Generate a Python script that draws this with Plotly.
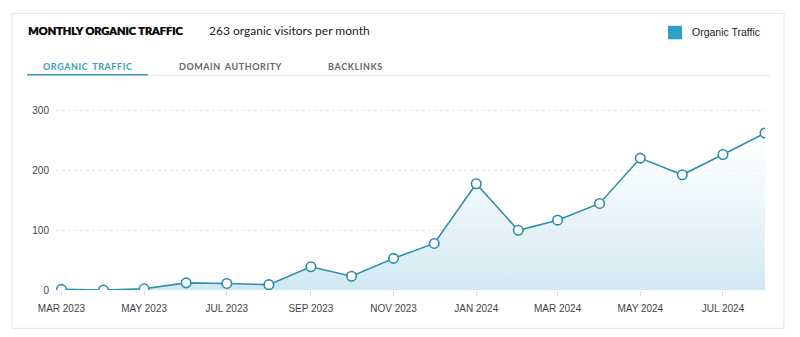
import plotly.graph_objects as go

months = ["2023-03-01", "2023-04-01", "2023-05-01", "2023-06-01", "2023-07-01", "2023-08-01",
          "2023-09-01", "2023-10-01", "2023-11-01", "2023-12-01", "2024-01-01", "2024-02-01",
          "2024-03-01", "2024-04-01", "2024-05-01", "2024-06-01", "2024-07-01", "2024-08-01"]
traffic = [1, 0, 2, 12, 11, 9, 39, 23, 53, 78, 178, 100, 117, 145, 221, 193, 227, 263]

tick_dates = ["2023-03-01", "2023-05-01", "2023-07-01", "2023-09-01", "2023-11-01",
              "2024-01-01", "2024-03-01", "2024-05-01", "2024-07-01"]
tick_labels = ["MAR 2023", "MAY 2023", "JUL 2023", "SEP 2023", "NOV 2023",
               "JAN 2024", "MAR 2024", "MAY 2024", "JUL 2024"]
y_ticks = [0, 100, 200, 300]

title_text = "MONTHLY ORGANIC TRAFFIC"
subtitle_text = "263 organic visitors per month"
tabs = ["ORGANIC TRAFFIC", "DOMAIN AUTHORITY", "BACKLINKS"]
legend_label = "Organic Traffic"

TEAL = "#2b8fab"


def spaced(s):
    return "\u200a".join(list(s)).replace("\u200a \u200a", "\u2009 \u2009")


fig = go.Figure()
fig.add_trace(go.Scatter(
    x=months, y=traffic, mode="lines+markers",
    line=dict(color=TEAL, width=1.6),
    marker=dict(size=9.5, color="white", line=dict(color=TEAL, width=1.6)),
    fill="tozeroy",
    fillgradient=dict(type="vertical",
                      colorscale=[[0, "rgba(200,228,239,0.85)"], [1, "rgba(255,255,255,0.6)"]]),
    showlegend=False, hoverinfo="x+y",
))

W, H = 800, 337
L, R, T, B = 56, 35, 98.7, 47.3

fig.update_layout(
    width=W, height=H,
    margin=dict(l=L, r=R, t=T, b=B),
    paper_bgcolor="white", plot_bgcolor="white",
    xaxis=dict(
        type="date", range=["2023-02-25", "2024-08-01"],
        tickvals=tick_dates, ticktext=tick_labels,
        showgrid=False, zeroline=False, showline=False,
        ticks="outside", ticklen=5, tickcolor="#dddddd", tickwidth=1,
        ticklabelstandoff=4,
        tickfont=dict(family="Liberation Sans, Arial", size=10, color="#444444"),
    ),
    yaxis=dict(
        range=[0, 320], tickvals=y_ticks,
        showgrid=True, gridcolor="#e3e3e3", griddash="dot", gridwidth=1,
        zeroline=False, showline=False, ticks="",
        ticklabelstandoff=6,
        tickfont=dict(family="Liberation Sans, Arial", size=10, color="#444444"),
    ),
    font=dict(family="Liberation Sans, Arial"),
    showlegend=False,
)


def px_x(x):
    return (x - L) / (W - L - R)


def px_y(y):
    return (H - B - y) / (H - T - B)


shapes = [
    # card border
    dict(type="rect", xref="paper", yref="paper",
         x0=px_x(12), x1=px_x(784), y0=px_y(328), y1=px_y(13),
         line=dict(color="#e4e4e4", width=1), fillcolor="rgba(0,0,0,0)", layer="below"),
    # tab separator line
    dict(type="line", xref="paper", yref="paper",
         x0=px_x(27), x1=px_x(770), y0=px_y(75), y1=px_y(75),
         line=dict(color="#e6e6e6", width=1)),
    # active tab underline
    dict(type="line", xref="paper", yref="paper",
         x0=px_x(27), x1=px_x(148), y0=px_y(74.5), y1=px_y(74.5),
         line=dict(color="#3a9db8", width=1.5)),
    # legend square
    dict(type="rect", xref="paper", yref="paper",
         x0=px_x(668), x1=px_x(682), y0=px_y(39), y1=px_y(25.5),
         line=dict(width=0), fillcolor="#2ea0c6"),
]
fig.update_layout(shapes=shapes)

annotations = [
    dict(text=title_text, x=px_x(26), y=px_y(30.5), xanchor="left", yanchor="middle",
         font=dict(family="Lato, Liberation Sans", size=11, color="#111111", weight=900,
                   shadow="0.5px 0 0 #111111")),
    dict(text=subtitle_text, x=px_x(207), y=px_y(30.5), xanchor="left", yanchor="middle",
         font=dict(family="Lato, Liberation Sans", size=12, color="#222222")),
    dict(text=legend_label, x=px_x(690), y=px_y(32), xanchor="left", yanchor="middle",
         font=dict(family="Liberation Sans, Arial", size=10.5, color="#222222")),
]
tab_x = [41, 177, 326]
tab_colors = ["#3a9db8", "#666666", "#666666"]
for t, x, c in zip(tabs, tab_x, tab_colors):
    annotations.append(dict(text="<b>" + spaced(t) + "</b>", x=px_x(x), y=px_y(66.5),
                            xanchor="left", yanchor="middle",
                            font=dict(family="Lato, Liberation Sans", size=9, color=c)))
for a in annotations:
    a.update(xref="paper", yref="paper", showarrow=False)
fig.update_layout(annotations=annotations)

fig.write_html("out.html")
